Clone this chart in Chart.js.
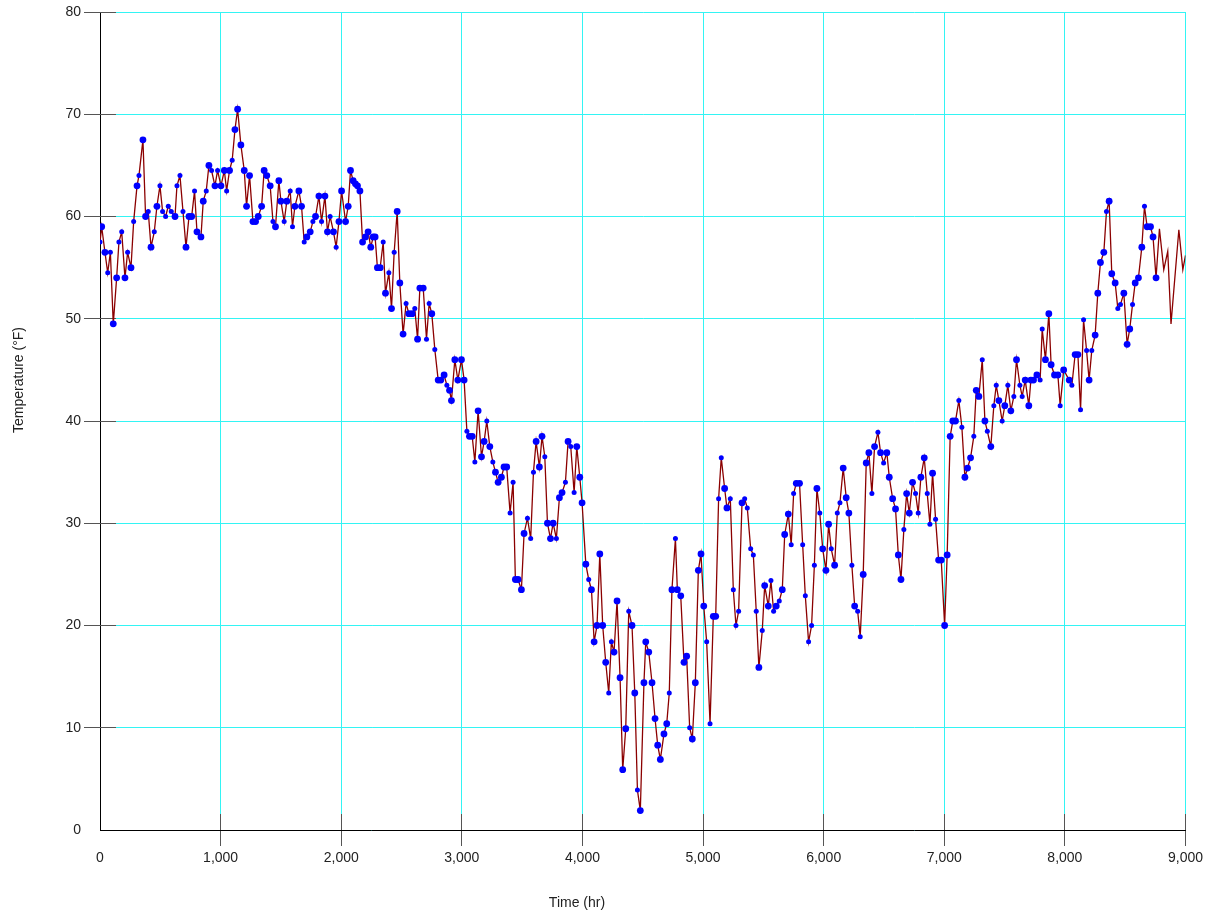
<!DOCTYPE html>
<html>
<head>
<meta charset="utf-8">
<script src="https://cdn.jsdelivr.net/npm/chart.js@4.4.1/dist/chart.umd.min.js"></script>
<style>
  body { margin: 0; background: #fff; }
  canvas { display: block; }
</style>
</head>
<body>
<canvas id="tempChart" width="1207" height="913"></canvas>
<script>
// Readings taken off the plot: time (hr), temperature (°F), dot size (0 = no dot)
const hours = [
  0, 14, 41, 64, 86, 110, 138, 157, 180, 207, 229, 257, 279, 307, 323, 356, 378, 400, 423, 450,
  472, 497, 519, 544, 566, 591, 622, 638, 663, 688, 713, 738, 760, 784, 804, 837, 856, 881, 903, 925,
  953, 975, 1003,
  1031, 1050, 1074, 1096, 1119, 1141, 1168, 1196, 1215, 1240, 1268, 1290, 1312, 1340, 1361, 1383, 1411, 1434, 1455, 1483,
  1500, 1527, 1549, 1577, 1596, 1616, 1649, 1671, 1693, 1715, 1743, 1765, 1787, 1815, 1837, 1865, 1886, 1908, 1936, 1958,
  1981, 2003,
  2036, 2058, 2077, 2099, 2118, 2135, 2155, 2177, 2201, 2223, 2245, 2265, 2281, 2300, 2323, 2348, 2367, 2395, 2417, 2439,
  2464, 2486, 2513, 2538, 2561, 2588, 2610, 2633, 2652, 2680, 2707, 2729, 2751, 2776, 2804, 2826, 2853, 2876, 2898, 2914,
  2942, 2967, 2997,
  3019, 3042, 3063, 3086, 3108, 3135, 3163, 3185, 3207, 3232, 3257, 3279, 3301, 3328, 3350, 3372, 3400, 3425, 3444, 3466,
  3494, 3516, 3544, 3571, 3594, 3616, 3643, 3665, 3688, 3710, 3735, 3757, 3784, 3809, 3831, 3859, 3881, 3903, 3931, 3953,
  3978, 3997,
  4028, 4052, 4075, 4097, 4121, 4144, 4168, 4193, 4218, 4240, 4262, 4287, 4312, 4334, 4359, 4384, 4411, 4434, 4456, 4480,
  4510, 4525, 4550, 4577, 4602, 4624, 4646, 4676, 4699, 4720, 4742, 4771, 4787, 4815, 4842, 4864, 4889, 4911, 4936, 4961,
  4983, 5006,
  5030, 5058, 5085, 5105, 5129, 5151, 5179, 5198, 5226, 5251, 5273, 5295, 5323, 5345, 5367, 5395, 5417, 5441, 5463, 5491,
  5511, 5541, 5563, 5585, 5607, 5632, 5657, 5677, 5707, 5731, 5751, 5773, 5800, 5826, 5848, 5875, 5900, 5923, 5944, 5968,
  5992,
  6019, 6041, 6063, 6091, 6113, 6135, 6162, 6187, 6209, 6234, 6257, 6282, 6303, 6328, 6353, 6375, 6400, 6422, 6450, 6472,
  6497, 6524, 6544, 6572, 6596, 6619, 6641, 6665, 6688, 6710, 6737, 6762, 6784, 6806, 6834, 6859, 6881, 6903, 6928, 6953,
  6975,
  7003, 7024, 7049, 7071, 7093, 7121, 7146, 7171, 7193, 7218, 7245, 7265, 7287, 7315, 7337, 7357, 7386, 7411, 7431, 7453,
  7480, 7502, 7527, 7552, 7577, 7599, 7627, 7646, 7671, 7701, 7718, 7740, 7768, 7795, 7812, 7839, 7867, 7886, 7914, 7942,
  7961, 7990,
  8036, 8058, 8085, 8108, 8130, 8155, 8180, 8201, 8223, 8251, 8273, 8295, 8323, 8345, 8367, 8389, 8417, 8439, 8461, 8489,
  8516, 8538, 8561, 8583, 8610, 8638, 8660, 8682, 8710, 8731, 8756, 8784, 8820, 8853, 8880, 8945, 8978, 9000
];

const temps = [
  57.5, 59, 56.5, 54.5, 56.5, 49.5, 54, 57.5, 58.5, 54, 56.5, 55, 59.5, 63, 64, 67.5, 60, 60.5, 57, 58.5,
  61, 63, 60.5, 60, 61, 60.5, 60, 63, 64, 60.5, 57, 60, 60, 62.5, 58.5, 58, 61.5, 62.5, 65, 64.5,
  63, 64.5, 63,
  64.5, 62.5, 64.5, 65.5, 68.5, 70.5, 67, 64.5, 61, 64, 59.5, 59.5, 60, 61, 64.5, 64, 63, 59.5, 59, 63.5,
  61.5, 59.5, 61.5, 62.5, 59, 61, 62.5, 61, 57.5, 58, 58.5, 59.5, 60, 62, 59.5, 62, 58.5, 60, 58.5, 57,
  59.5, 62.5,
  59.5, 61, 64.5, 63.5, 63.2, 63, 62.5, 57.5, 58, 58.5, 57, 58, 58, 55, 55, 57.5, 52.5, 54.5, 51, 56.5,
  60.5, 53.5, 48.5, 51.5, 50.5, 50.5, 51, 48, 53, 53, 48, 51.5, 50.5, 47, 44, 44, 44.5, 43.5, 43, 42,
  46, 44, 46,
  44, 39, 38.5, 38.5, 36, 41, 36.5, 38, 40, 37.5, 36, 35, 34, 34.5, 35.5, 35.5, 31, 34, 24.5, 24.5,
  23.5, 29, 30.5, 28.5, 35, 38, 35.5, 38.5, 36.5, 30, 28.5, 30, 28.5, 32.5, 33, 34, 38, 37.5, 33, 37.5,
  34.5, 32,
  26, 24.5, 23.5, 18.4, 20, 27, 20, 16.4, 13.4, 18.4, 17.4, 22.4, 14.9, 5.9, 9.9, 21.4, 20, 13.4, 3.9, 1.9,
  14.4, 18.4, 17.4, 14.4, 10.9, 8.3, 6.9, 9.4, 10.4, 13.4, 23.5, 28.5, 23.5, 22.9, 16.4, 17, 10, 8.9, 14.4, 25.4,
  27, 21.9,
  18.4, 10.4, 20.9, 20.9, 32.4, 36.4, 33.4, 31.5, 32.4, 23.5, 20, 21.4, 32, 32.4, 31.5, 27.5, 26.9, 21.4, 15.9, 19.5,
  23.9, 21.9, 24.4, 21.4, 21.9, 22.4, 23.5, 28.9, 30.9, 27.9, 32.9, 33.9, 33.9, 27.9, 22.9, 18.4, 20, 25.9, 33.4, 31,
  27.5,
  25.4, 29.9, 27.5, 25.9, 31, 32, 35.4, 32.5, 31, 25.9, 21.9, 21.4, 18.9, 25, 35.9, 36.9, 32.9, 37.5, 38.9, 36.9,
  35.9, 36.9, 34.5, 32.4, 31.4, 26.9, 24.5, 29.4, 32.9, 31, 34, 32.9, 31, 34.5, 36.4, 32.9, 29.9, 34.9, 30.4, 26.4,
  26.4,
  20, 26.9, 38.5, 40, 40, 42, 39.4, 34.5, 35.4, 36.4, 38.5, 43, 42.4, 46, 40, 39, 37.5, 41.5, 43.5, 42,
  40, 41.5, 43.5, 41, 42.4, 46, 43.5, 42.4, 44, 41.5, 44, 44, 44.5, 44, 49, 46, 50.5, 45.5, 44.5, 44.5,
  41.5, 45,
  44, 43.5, 46.5, 46.5, 41.1, 49.9, 46.9, 44, 46.9, 48.4, 52.5, 55.5, 56.5, 60.5, 61.5, 54.4, 53.5, 51, 51.4, 52.5,
  47.5, 49, 51.4, 53.5, 54, 57, 61, 59, 59, 58, 54, 58.8, 54.8, 56.6, 49.5, 58.7, 54.8, 56.2
];

// 2 = small dot, 3 = big dot, 0 = line vertex only
const dotSizes = [
  2, 3, 3, 2, 2, 3, 3, 2, 2, 3, 2, 3, 2, 3, 2, 3, 3, 2, 3, 2,
  3, 2, 2, 2, 2, 2, 3, 2, 2, 2, 3, 3, 3, 2, 3, 3, 3, 2, 3, 2,
  3, 2, 3,
  3, 2, 3, 2, 3, 3, 3, 3, 3, 3, 3, 3, 3, 3, 3, 3, 3, 2, 3, 3,
  3, 2, 3, 2, 2, 3, 3, 3, 2, 3, 3, 2, 3, 3, 2, 3, 3, 2, 3, 2,
  3, 3,
  3, 3, 3, 3, 3, 3, 3, 3, 3, 3, 3, 3, 3, 3, 3, 2, 3, 2, 3, 2,
  3, 3, 3, 2, 3, 3, 2, 3, 3, 3, 2, 2, 3, 2, 3, 3, 3, 2, 3, 3,
  3, 3, 3,
  3, 2, 3, 3, 2, 3, 3, 3, 2, 3, 2, 3, 3, 3, 3, 3, 2, 2, 3, 3,
  3, 3, 2, 2, 2, 3, 3, 3, 2, 3, 3, 3, 2, 3, 3, 2, 3, 2, 2, 3,
  3, 3,
  3, 2, 3, 3, 3, 3, 3, 3, 2, 2, 3, 3, 3, 3, 3, 2, 3, 3, 2, 3,
  3, 3, 3, 3, 3, 3, 3, 3, 3, 2, 3, 2, 3, 3, 3, 3, 2, 3, 3, 3,
  3, 3,
  2, 2, 3, 3, 2, 2, 3, 3, 2, 2, 2, 2, 3, 2, 2, 2, 2, 2, 3, 2,
  3, 3, 2, 2, 3, 2, 3, 3, 3, 2, 2, 3, 3, 2, 2, 2, 2, 2, 3, 2,
  3,
  3, 3, 2, 3, 2, 2, 3, 3, 3, 2, 3, 2, 2, 3, 3, 3, 2, 3, 2, 3,
  2, 3, 3, 3, 3, 3, 3, 2, 3, 3, 3, 2, 2, 3, 3, 2, 2, 3, 2, 3,
  3,
  3, 3, 3, 3, 3, 2, 2, 3, 3, 3, 2, 3, 3, 2, 3, 2, 3, 2, 2, 3,
  2, 3, 2, 3, 2, 3, 2, 2, 3, 3, 3, 3, 3, 2, 2, 3, 3, 3, 3, 3,
  2, 3,
  3, 2, 3, 3, 2, 2, 2, 3, 2, 3, 3, 3, 3, 2, 3, 3, 3, 2, 2, 3,
  3, 3, 2, 3, 3, 3, 2, 3, 3, 3, 3, 0, 0, 0, 0, 0, 0, 0
];

const xTickStep = 1000;
const yTickStep = 10;
const xTitle = 'Time (hr)';
const yTitle = 'Temperature (°F)';

const points = hours.map((h, i) => ({ x: h, y: temps[i] }));
const radii = dotSizes.map(s => s === 3 ? 3.4 : s === 2 ? 2.5 : 0);

const FONT = '"Liberation Sans", Arial, sans-serif';

// short dark tick marks reaching into the plot from both axes
const innerTicks = {
  id: 'innerTicks',
  beforeDatasetsDraw(chart) {
    const { ctx, chartArea, scales } = chart;
    const len = 16;
    ctx.save();
    ctx.strokeStyle = '#555';
    ctx.lineWidth = 1;
    ctx.beginPath();
    scales.x.ticks.forEach(t => {
      if (t.value === 0) return;
      const px = Math.round(scales.x.getPixelForValue(t.value) + 0.5) - 0.5;
      ctx.moveTo(px, chartArea.bottom);
      ctx.lineTo(px, chartArea.bottom - len);
    });
    scales.y.ticks.forEach(t => {
      if (t.value === 0) return;
      const py = Math.round(scales.y.getPixelForValue(t.value) + 0.5) - 0.5;
      ctx.moveTo(chartArea.left, py);
      ctx.lineTo(chartArea.left + len, py);
    });
    ctx.stroke();
    ctx.restore();
  }
};

// axis titles sit a bit off-centre in the original, so draw them by hand
const axisTitles = {
  id: 'axisTitles',
  afterDraw(chart) {
    const { ctx } = chart;
    ctx.save();
    ctx.fillStyle = '#222';
    ctx.font = '14px ' + FONT;
    ctx.textAlign = 'center';
    ctx.textBaseline = 'middle';
    ctx.fillText(xTitle, 577, 903);
    ctx.translate(19, 380);
    ctx.rotate(-Math.PI / 2);
    ctx.fillText(yTitle, 0, 0);
    ctx.restore();
  }
};

Chart.defaults.font.family = FONT;
Chart.defaults.font.size = 14;
Chart.defaults.color = '#222';

const tickColor = c => (c.tick && c.tick.value === 0) ? 'rgba(0,0,0,0)' : '#555';

new Chart(document.getElementById('tempChart'), {
  type: 'line',
  data: {
    datasets: [{
      data: points,
      borderColor: '#8b0000',
      borderWidth: 1.3,
      tension: 0,
      fill: false,
      pointRadius: radii,
      pointHoverRadius: radii,
      pointBackgroundColor: '#0000ff',
      pointBorderColor: '#0000ff',
      pointBorderWidth: 0
    }]
  },
  options: {
    responsive: false,
    animation: false,
    layout: { padding: { top: 12, right: 21, left: 0, bottom: 0 } },
    plugins: {
      legend: { display: false },
      tooltip: { enabled: false }
    },
    scales: {
      x: {
        type: 'linear',
        min: 0,
        max: 9000,
        afterFit: s => { s.height = 83; },
        ticks: {
          stepSize: xTickStep,
          padding: 4,
          maxRotation: 0,
          callback: v => v.toLocaleString('en-US')
        },
        grid: {
          color: '#33f4f4',
          lineWidth: 1,
          tickLength: 16,
          tickColor: tickColor
        },
        border: { color: '#000', width: 1 }
      },
      y: {
        min: 0,
        max: 80,
        afterFit: s => { s.width = 100; },
        ticks: {
          stepSize: yTickStep,
          padding: 3
        },
        grid: {
          color: '#33f4f4',
          lineWidth: 1,
          tickLength: 16,
          tickColor: tickColor
        },
        border: { color: '#000', width: 1 }
      }
    }
  },
  plugins: [innerTicks, axisTitles]
});
</script>
</body>
</html>
